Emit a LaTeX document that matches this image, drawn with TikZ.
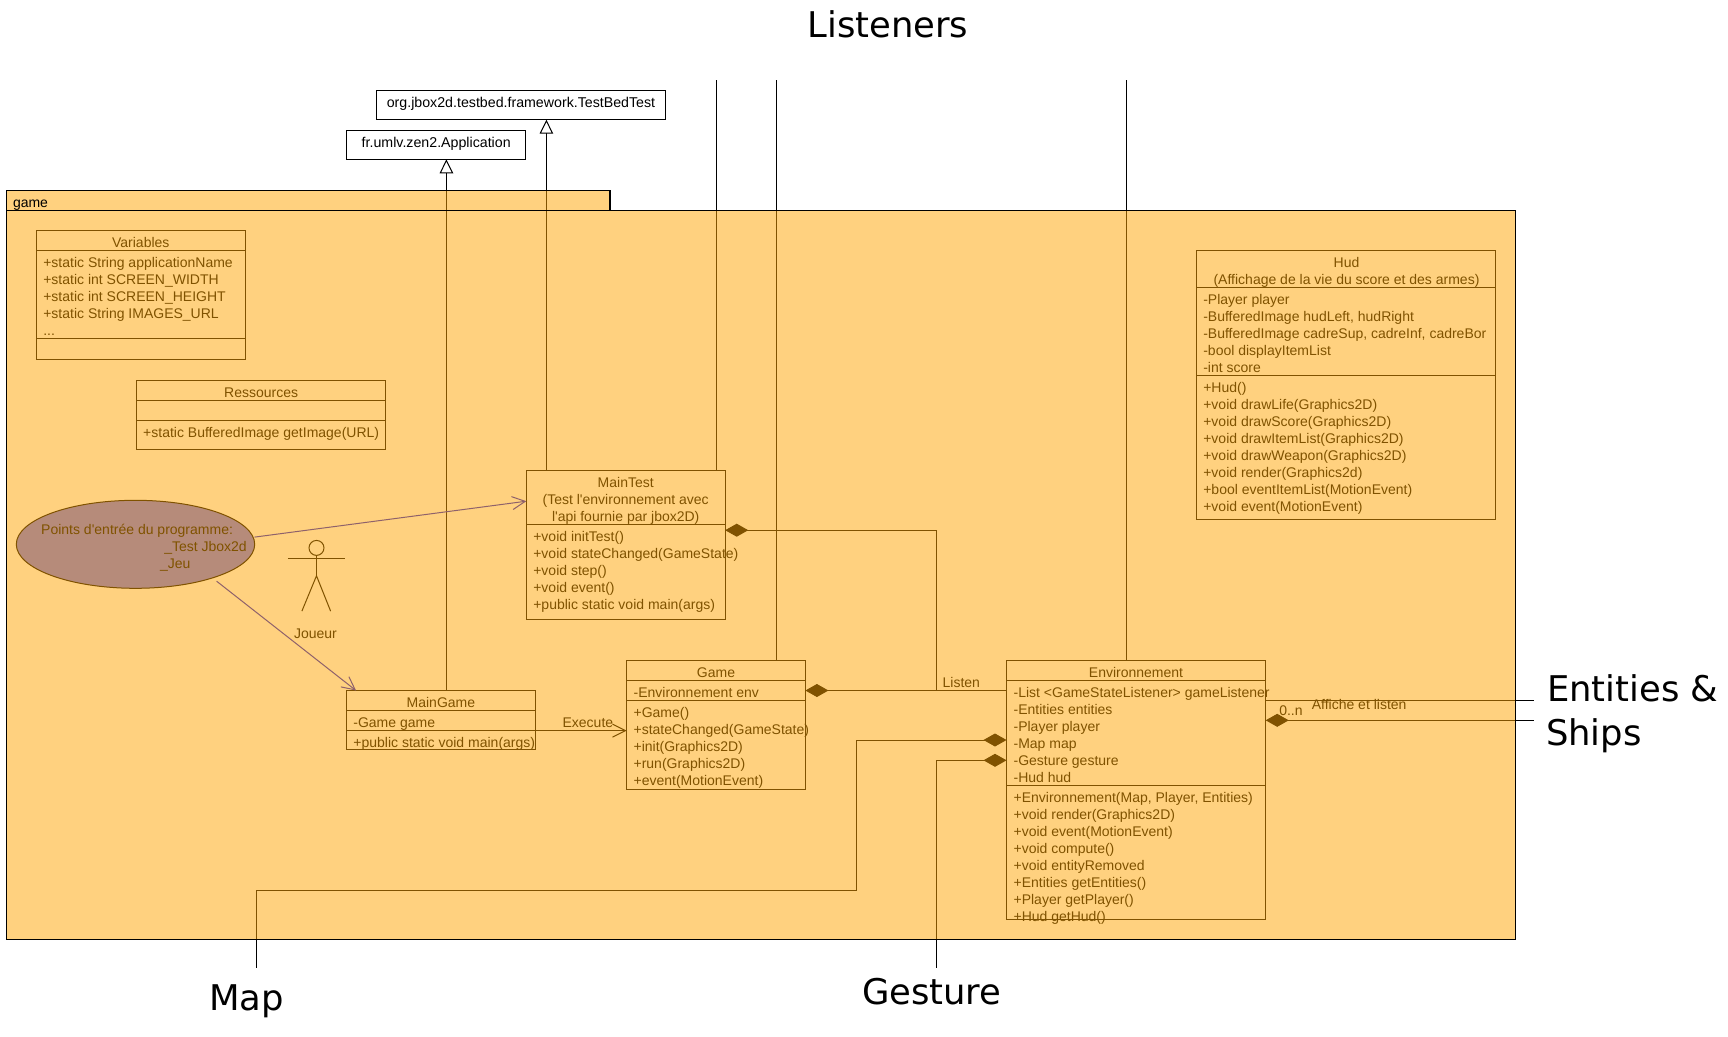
\documentclass[tikz,border=0pt]{standalone}
\usepackage{fontspec}
\usetikzlibrary{arrows.meta,shapes.geometric}
\newfontfamily\umlfont{Liberation Sans}
\newfontfamily\bigfont{DejaVu Sans}
\definecolor{pkgtint}{RGB}{255,164,0}
\definecolor{usecase}{RGB}{110,115,245}
\definecolor{usearrow}{RGB}{30,30,215}
\tikzset{
  x=1pt,y=-1pt,
  umlline/.style={line width=1pt,black},
  umlbox/.style={draw=black,line width=1pt,inner sep=0,outer sep=0},
  umltxt/.style={inner sep=0,outer sep=0,font=\umlfont\fontsize{14}{17}\selectfont,align=left,text=black},
  umltitle/.style={umltxt,align=center,anchor=north},
  conn/.style={line width=1pt,black},
  gen/.style={conn,-{Triangle[open,fill=white,length=14pt,width=13.5pt]}},
  comp/.style={conn,{Diamond[length=23pt,width=13pt]}-},
  nav/.style={conn,-{Straight Barb[length=13pt,width=13pt]}},
  usenav/.style={nav,usearrow},
  bigtxt/.style={inner sep=0,outer sep=0,anchor=west,font=\bigfont\fontsize{35.4}{42}\selectfont,text=black},
}
\newcommand\umlclassbox[5]{%
  \pgfmathsetlengthmacro\bw{#4-#2}\pgfmathsetlengthmacro\bh{#5-#3}%
  \node[umlbox,minimum width=\bw,minimum height=\bh,anchor=north west](#1) at (#2,#3){};}
\newcommand\umlsep[2]{\draw[umlline] (#1.west |- 0,#2) -- (#1.east |- 0,#2);}
\newcommand\umlt[4]{\node[umltxt,anchor=north west](#1) at (#2,#3){\strut #4};}
\newcommand\umlc[4]{\node[umltitle](#1) at (#2,#3){\strut #4};}
\begin{document}
\begin{tikzpicture}
\useasboundingbox[fill=white] (0,0) rectangle (1728,1036);

% ---- outside classes
\node[umlbox,fill=white,minimum width=289pt,minimum height=29.4pt,anchor=north west](org) at (376,90.3){};
\node[umlbox,fill=white,minimum width=179pt,minimum height=29pt,anchor=north west](fr) at (346.4,130.3){};
\node[umltitle,font=\umlfont\fontsize{14.2}{17}\selectfont](orgT) at (521,95.6){\strut org.jbox2d.testbed.framework.TestBedTest};
\node[umltitle,font=\umlfont\fontsize{14.2}{17}\selectfont](frT) at (436.2,135.3){\strut fr.umlv.zen2.Application};

% ---- classes
\umlclassbox{variables}{36.2}{230.3}{245.5}{359.3}
\umlsep{variables}{250.7}\umlsep{variables}{338.3}
\umlc{variablesT}{140.8}{235.3}{Variables}
\umlt{variablesA}{43.3}{255.3}{+static String applicationName\\+static int SCREEN\_WIDTH\\+static int SCREEN\_HEIGHT\\+static String IMAGES\_URL\\...}

\umlclassbox{ressources}{136.6}{380.3}{385.7}{449.3}
\umlsep{ressources}{400.3}\umlsep{ressources}{420.3}
\umlc{ressourcesT}{261.1}{385.3}{Ressources}
\umlt{ressourcesO}{143.2}{425.3}{+static BufferedImage getImage(URL)}

\umlclassbox{maintest}{526.3}{470.3}{725.2}{619.6}
\umlsep{maintest}{524.3}
\umlc{maintestT}{625.7}{475.3}{MainTest\\(Test l'environnement avec\\l'api fournie par jbox2D)}
\umlt{maintestO}{533.3}{529.5}{+void initTest()\\+void stateChanged(GameState)\\+void step()\\+void event()\\+public static void main(args)}

\umlclassbox{maingame}{346.3}{690.5}{535.5}{749.7}
\umlsep{maingame}{710.7}\umlsep{maingame}{730.6}
\umlc{maingameT}{440.9}{695.3}{MainGame}
\umlt{maingameA}{353.4}{715.9}{-Game game}
\umlt{maingameO}{353.4}{735.7}{+public static void main(args)}

\umlclassbox{game}{626.6}{660.4}{805.4}{789.8}
\umlsep{game}{680.6}\umlsep{game}{700.4}
\umlc{gameT}{716}{665.5}{Game}
\umlt{gameA}{633.6}{685.4}{-Environnement env}
\umlt{gameO}{633.6}{705.6}{+Game()\\+stateChanged(GameState)\\+init(Graphics2D)\\+run(Graphics2D)\\+event(MotionEvent)}

\umlclassbox{env}{1006.5}{660.3}{1265.7}{919.3}
\umlsep{env}{680.3}\umlsep{env}{785.3}
\umlc{envT}{1136}{665.3}{Environnement}
\umlt{envA}{1013.6}{685.3}{-List <GameStateListener> gameListener\\-Entities entities\\-Player player\\-Map map\\-Gesture gesture\\-Hud hud}
\umlt{envO}{1013.6}{790.3}{+Environnement(Map, Player, Entities)\\+void render(Graphics2D)\\+void event(MotionEvent)\\+void compute()\\+void entityRemoved\\+Entities getEntities()\\+Player getPlayer()\\+Hud getHud()}

\umlclassbox{hud}{1196.3}{250.3}{1495.7}{519.3}
\umlsep{hud}{287.3}\umlsep{hud}{375.3}
\umlc{hudT}{1346.5}{255.3}{Hud\\(Affichage de la vie du score et des armes)}
\umlt{hudA}{1203.3}{292.3}{-Player player\\-BufferedImage hudLeft, hudRight\\-BufferedImage cadreSup, cadreInf, cadreBor\\-bool displayItemList\\-int score}
\umlt{hudO}{1203.3}{380.3}{+Hud()\\+void drawLife(Graphics2D)\\+void drawScore(Graphics2D)\\+void drawItemList(Graphics2D)\\+void drawWeapon(Graphics2D)\\+void render(Graphics2d)\\+bool eventItemList(MotionEvent)\\+void event(MotionEvent)}

% ---- use case and actor
\node[ellipse,draw=black,line width=1pt,fill=usecase,minimum width=238.4pt,minimum height=88pt,inner sep=0,outer sep=0](entry) at (135.5,544.3){};
\umlt{entryA}{41.2}{522.5}{Points d'entrée du programme:}
\umlt{entryB}{164.3}{539.4}{\_Test Jbox2d}
\umlt{entryC}{160}{556.3}{\_Jeu}

\node[circle,draw=black,line width=1pt,minimum size=15pt,inner sep=0,outer sep=0](head) at (316.5,547.9){};
\coordinate (hip) at (316.5,575.8);
\coordinate (armL) at (287.8,558.2);
\coordinate (armR) at (344.7,558.2);
\coordinate (legL) at (301.9,611.1);
\coordinate (legR) at (330.6,611.1);
\draw[conn] (head.south) -- (hip);
\draw[conn] (armL) -- (armR);
\draw[conn] (legL) -- (hip) -- (legR);
\umlc{actorT}{315.4}{627}{Joueur}

% ---- connectors
\coordinate (topFr) at (446.4,0);
\coordinate (topOrg) at (546.4,0);
\coordinate (topA) at (716,80);
\coordinate (topB) at (776,80);
\coordinate (topC) at (1126.6,80);
\coordinate (busX) at (936.7,0);
\coordinate (mapX) at (856.2,0);
\coordinate (mapEnd) at (256.8,968);
\coordinate (gestureEnd) at (936.7,968);
\coordinate (rightUp) at (1533.7,700.3);
\coordinate (rightDown) at (1533.7,720.3);

\draw[gen] (topFr |- maingame.north) -- (topFr |- fr.south);
\draw[gen] (topOrg |- maintest.north) -- (topOrg |- org.south);
\draw[conn] (topA) -- (topA |- maintest.north);
\draw[conn] (topB) -- (topB |- game.north);
\draw[conn] (topC) -- (topC |- env.north);

\draw[usenav] ([xshift=1pt,yshift=1pt]entry.3) -- (maintest.west |- 0,501.2);
\draw[usenav] ([xshift=5pt,yshift=-3pt]entry.-24) -- (maingame.north -| 356,0);
\draw[nav] (maingame.east |- 0,730.6) -- (game.west |- 0,730.6);
\umlt{execT}{562.6}{716}{Execute}

\draw[comp] (maintest.east |- 0,530.2) -- (busX |- 0,530.2) -- (busX |- 0,690.5);
\draw[comp] (game.east |- 0,690.5) -- (env.west |- 0,690.5);
\draw[comp] (env.west |- 0,740) -- (mapX |- 0,740) -- (mapX |- 0,890.5) -- (mapEnd |- 0,890.5) -- (mapEnd);
\draw[comp] (env.west |- 0,760.3) -- (busX |- 0,760.3) -- (gestureEnd);
\draw[conn] (env.east |- rightUp) -- (rightUp);
\draw[comp] (env.east |- rightDown) -- (rightDown);

\umlt{listenT}{942.6}{675.7}{Listen}
\umlt{afficheT}{1311.8}{697.7}{Affiche et listen}
\umlt{multT}{1279.3}{703.7}{0..n}

% ---- translucent package over everything inside it, then its outline
\fill[pkgtint,fill opacity=.5] (6.4,190.3) rectangle (610,210.3);
\fill[pkgtint,fill opacity=.5] (6.4,210.3) rectangle (1515.3,939.8);
\draw[black,line width=1.2pt] (6.4,210.3) -- (6.4,190.3) -- (610,190.3) -- (610,210.3);
\draw[black,line width=1.2pt] (6.4,210.3) rectangle (1515.3,939.8);
\umlt{pkgT}{13}{195.7}{game}

% ---- free labels
\node[bigtxt,anchor=center](listeners) at (888,24){Listeners};
\node[bigtxt](entitiesT) at (1547,688){Entities \&};
\node[bigtxt](shipsT) at (1546,736.2){Ships};
\node[bigtxt](mapT) at (209.3,1001.6){Map};
\node[bigtxt](gestureT) at (862,991.7){Gesture};
\end{tikzpicture}
\end{document}
